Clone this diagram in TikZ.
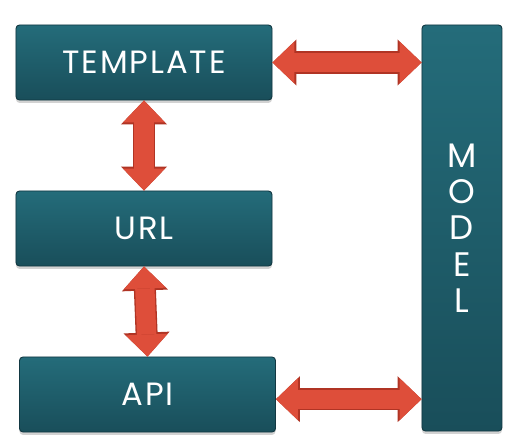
\documentclass[tikz,border=0pt]{standalone}
\usepackage{fontspec}
\setmainfont{Poppins}
\newfontfamily\labelfont[LetterSpace=6]{Poppins}
\usetikzlibrary{shapes,arrows.meta,positioning,shadows,calc}
\definecolor{boxtop}{RGB}{36,108,122}
\definecolor{boxbottom}{RGB}{25,78,90}
\definecolor{boxline}{RGB}{18,56,66}
\definecolor{arrowred}{RGB}{222,78,58}
\definecolor{arrowdark}{RGB}{176,52,36}
\tikzset{
    % Layer boxes
    layerbox/.style={
        rectangle, draw=boxline, thick, top color=boxtop, bottom color=boxbottom,
        minimum width=7.68cm, minimum height=2.25cm,
        rounded corners=3pt, text=white,
        font=\labelfont\fontsize{27.5}{30}\selectfont,
        drop shadow={shadow xshift=0pt, shadow yshift=-2.5pt, opacity=0.35}
    },
    modelbox/.style={
        rectangle, draw=boxline, thick, top color=boxtop, bottom color=boxbottom,
        minimum width=2.4cm, minimum height=12.18cm,
        rounded corners=3pt, text=white, align=center,
        font=\fontsize{29}{31}\selectfont,
        drop shadow={shadow xshift=0pt, shadow yshift=-2.5pt, opacity=0.35}
    },
    % Fat two-way arrows
    bigarrow/.style={
        draw=arrowred, line width=0.58cm,
        {Triangle[length=0.66cm,width=1.26cm,line width=0pt]}-{Triangle[length=0.66cm,width=1.26cm,line width=0pt]},
        preaction={draw=arrowdark, line width=0.66cm,
            arrows={Triangle[length=0.72cm,width=1.38cm,line width=0pt]-Triangle[length=0.72cm,width=1.38cm,line width=0pt]}}
    }
}
\begin{document}
\begin{tikzpicture}[x=0.03cm,y=-0.03cm]

\useasboundingbox[fill=white] (0,0) rectangle (518,447);

% Left column
\node[layerbox] (template) at (144,62.5) {TEMPLATE};
\node[layerbox] (url) at (144,228.5) {URL};
\node[layerbox] (api) at (147.5,394.5) {API};

% Right column
\node[modelbox] (model) at (462,228) {M\\O\\D\\E\\L};

% Arrows between layers
\draw[bigarrow] (template.south) -- (url.north);
\draw[bigarrow] (url.south) -- (api.north);
\draw[bigarrow] (template.east) -- (template.east -| model.west);
\draw[bigarrow] ([yshift=-4pt]api.east) -- ([yshift=-4pt]api.east -| model.west);

\end{tikzpicture}
\end{document}
